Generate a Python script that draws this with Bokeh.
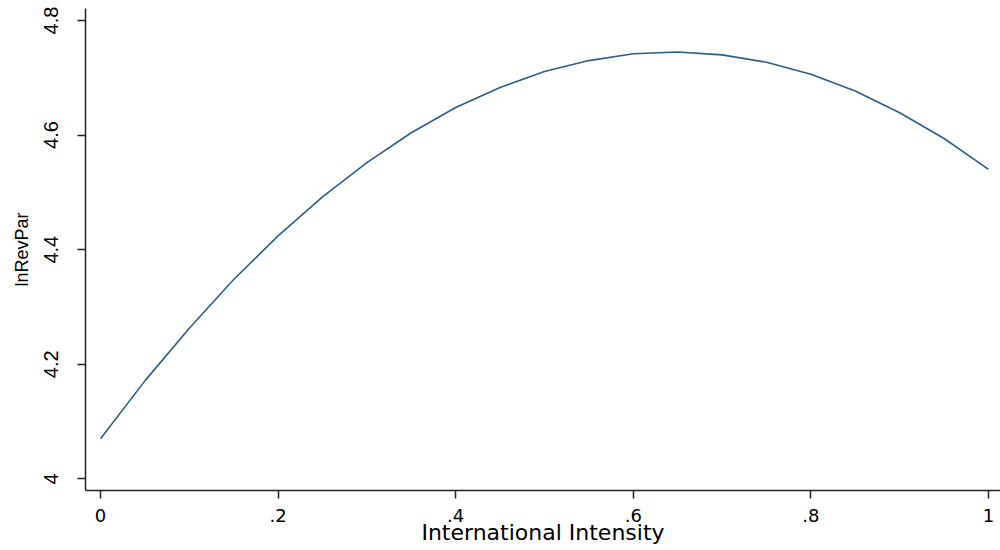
from bokeh.plotting import figure
from bokeh.models import FixedTicker, Range1d
from bokeh.embed import file_html
from bokeh.resources import INLINE

# Values
intensity = [0.0, 0.05, 0.10, 0.15, 0.20, 0.25, 0.30, 0.35, 0.40, 0.45, 0.50,
             0.55, 0.60, 0.65, 0.70, 0.75, 0.80, 0.85, 0.90, 0.95, 1.0]
ln_revpar = [4.070, 4.171, 4.263, 4.348, 4.424, 4.492, 4.552, 4.604, 4.648, 4.683, 4.711,
             4.730, 4.742, 4.745, 4.740, 4.727, 4.706, 4.677, 4.639, 4.594, 4.540]

x_ticks = [0, 0.2, 0.4, 0.6, 0.8, 1]
x_tick_labels = ["0", ".2", ".4", ".6", ".8", "1"]
y_ticks = [4, 4.2, 4.4, 4.6, 4.8]
y_tick_labels = ["4", "4.2", "4.4", "4.6", "4.8"]

p = figure(width=1000, height=550, output_backend="svg", toolbar_location=None,
           x_range=Range1d(-0.01689, 1.01351), y_range=Range1d(3.9797, 4.8209),
           min_border_left=85, min_border_right=0, min_border_top=8, min_border_bottom=60)
p.outline_line_color = None
p.xgrid.visible = False
p.ygrid.visible = False
p.background_fill_color = "white"
p.border_fill_color = "white"

p.line(intensity, ln_revpar, line_color="#2e5d8c", line_width=1.6)

axis_color = "#222222"
xa = p.xaxis[0]
xa.ticker = FixedTicker(ticks=x_ticks)
xa.major_label_overrides = {t: l for t, l in zip(x_ticks, x_tick_labels)}
xa.axis_label = "International Intensity"
xa.axis_label_text_font = "DejaVu Sans"
xa.axis_label_text_font_size = "22px"
xa.axis_label_text_font_style = "normal"
xa.axis_label_text_color = "black"
xa.axis_label_standoff = -5
xa.major_label_text_font = "DejaVu Sans"
xa.major_label_text_font_size = "18px"
xa.major_label_text_color = "black"
xa.major_label_standoff = 10
xa.major_tick_out = 8
xa.major_tick_in = 0
xa.minor_tick_out = 0
xa.minor_tick_in = 0
xa.axis_line_color = axis_color
xa.axis_line_width = 1.5
xa.major_tick_line_color = axis_color
xa.major_tick_line_width = 1.5

ya = p.yaxis[0]
ya.ticker = FixedTicker(ticks=y_ticks)
ya.major_label_overrides = {t: l for t, l in zip(y_ticks, y_tick_labels)}
ya.major_label_orientation = "vertical"
ya.axis_label = "lnRevPar"
ya.axis_label_text_font = "Liberation Sans"
ya.axis_label_text_font_size = "18px"
ya.axis_label_text_font_style = "normal"
ya.axis_label_text_color = "black"
ya.axis_label_standoff = 10
ya.major_label_text_font = "Liberation Sans"
ya.major_label_text_font_size = "20px"
ya.major_label_text_color = "black"
ya.major_label_standoff = 19
ya.major_tick_out = 8
ya.major_tick_in = 0
ya.minor_tick_out = 0
ya.minor_tick_in = 0
ya.axis_line_color = axis_color
ya.axis_line_width = 1.5
ya.major_tick_line_color = axis_color
ya.major_tick_line_width = 1.5

open("out.html", "w").write(file_html(p, INLINE))
